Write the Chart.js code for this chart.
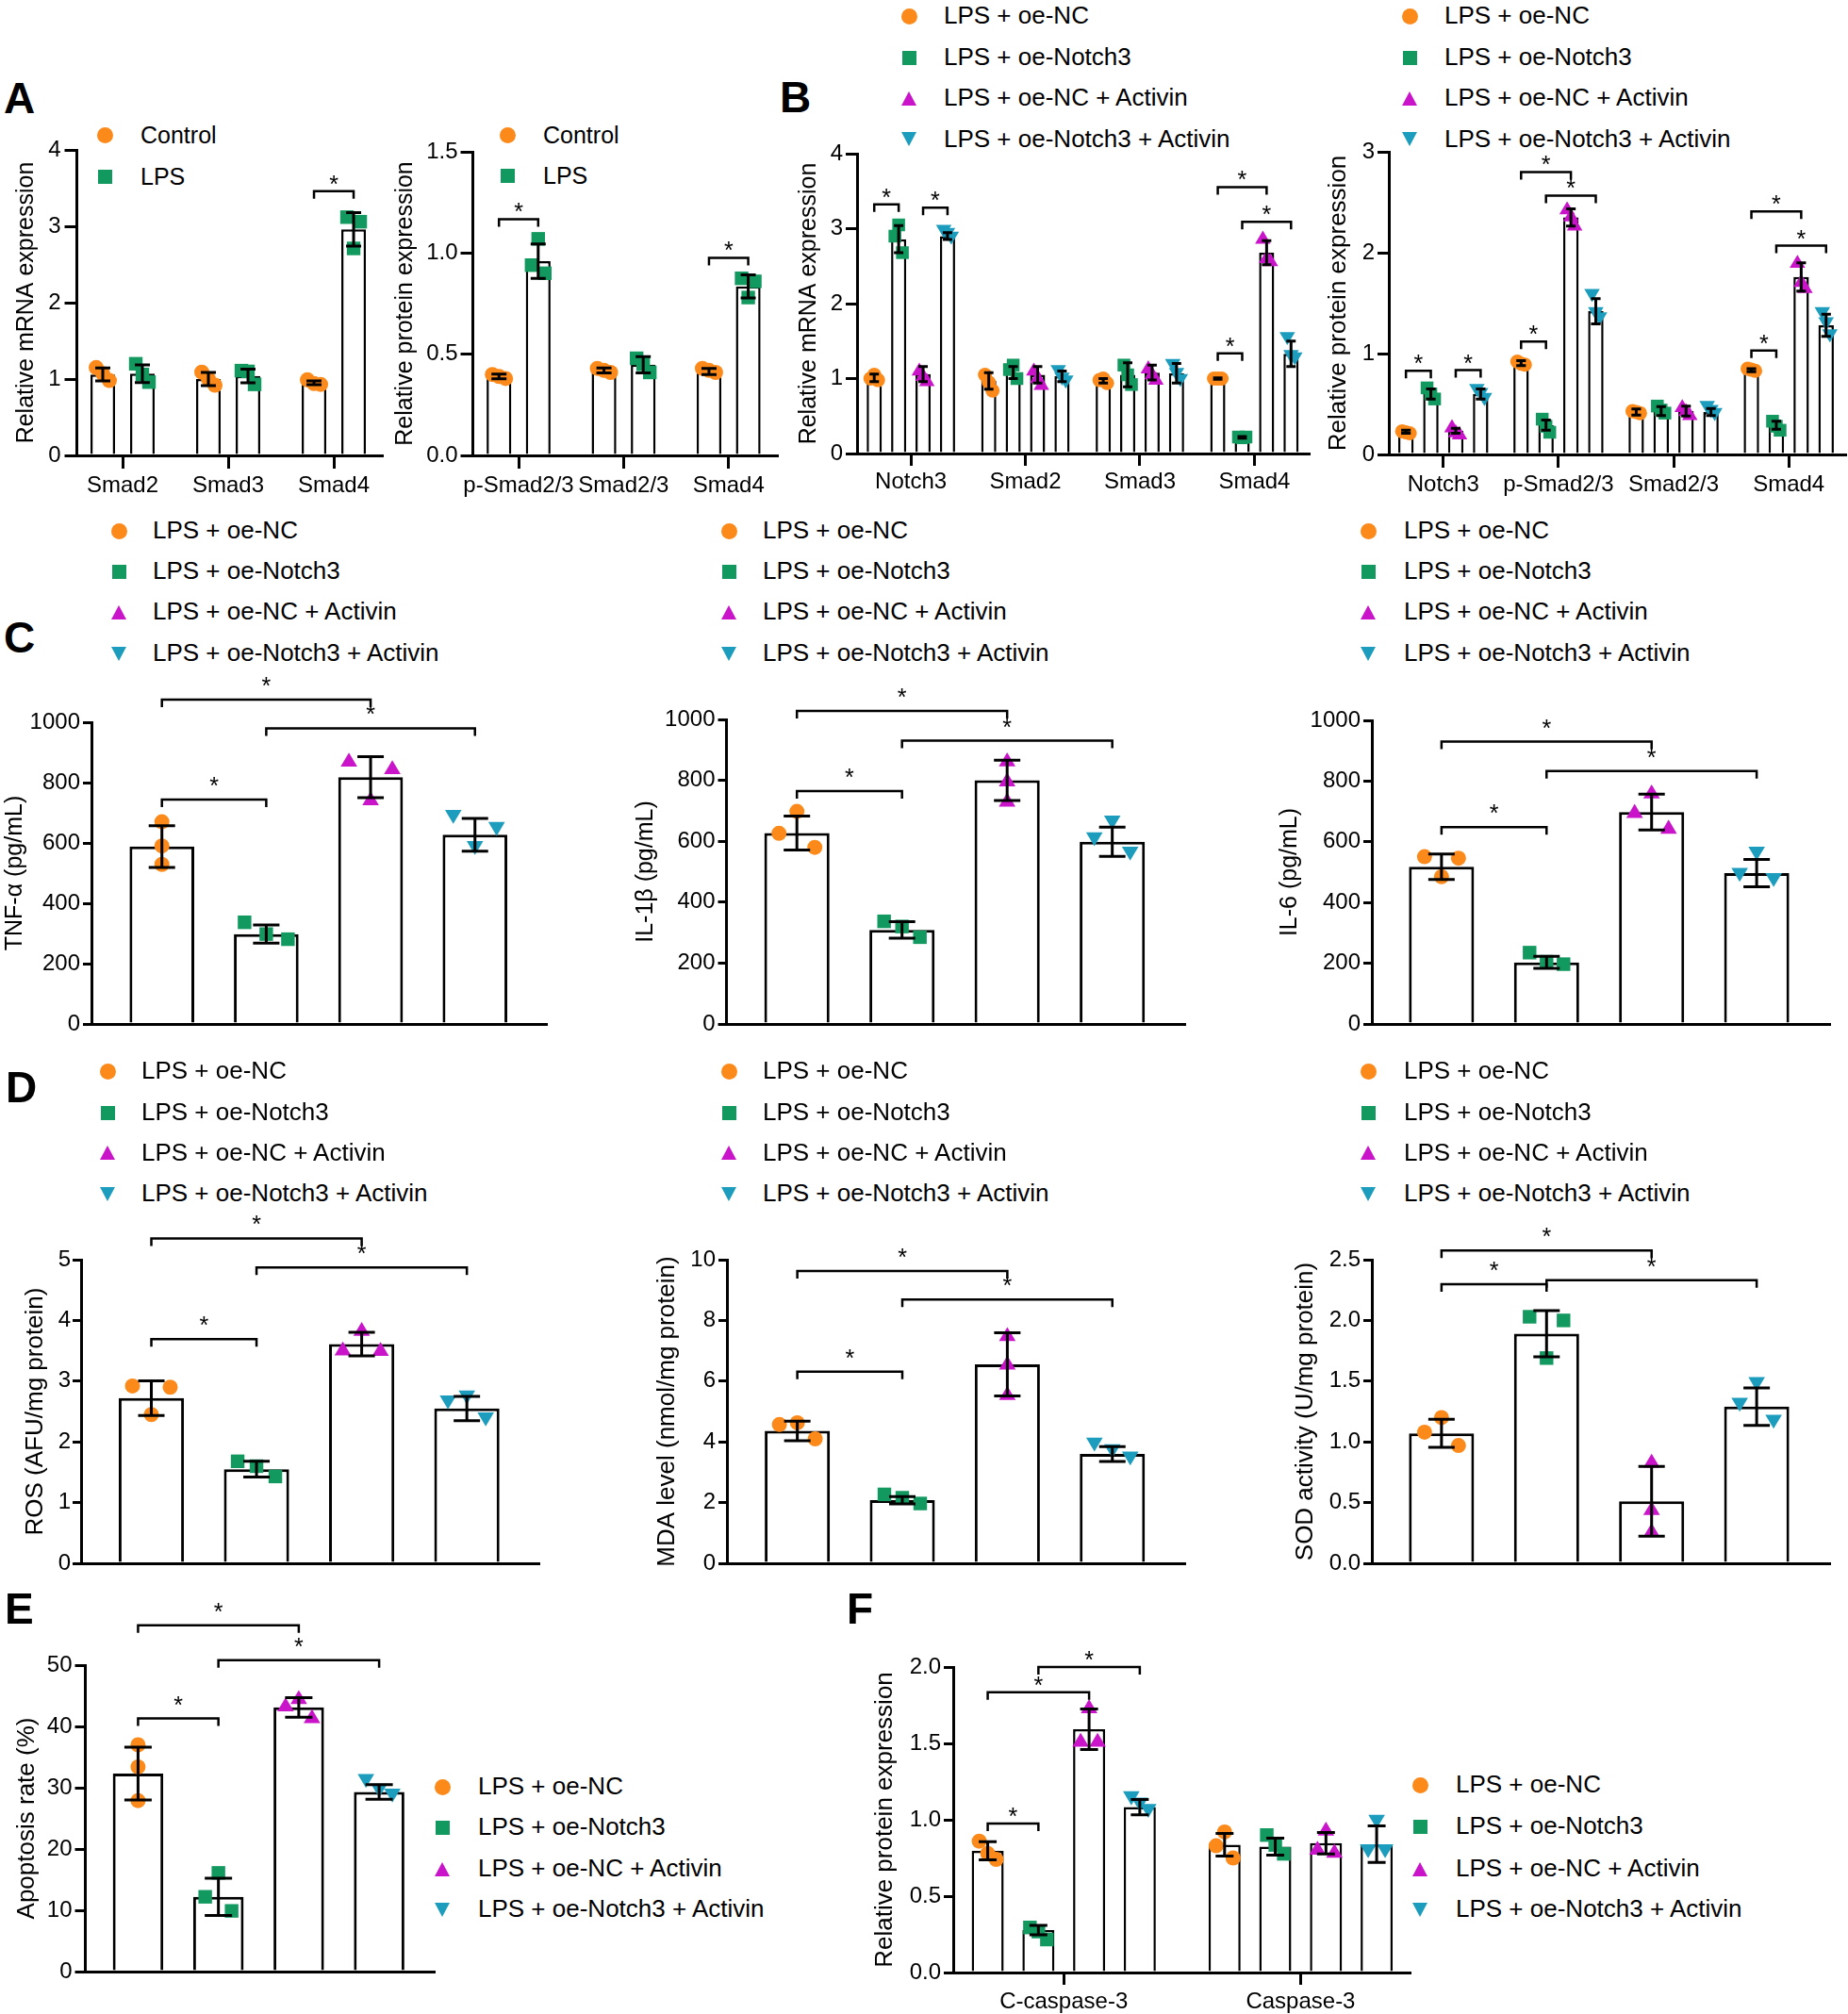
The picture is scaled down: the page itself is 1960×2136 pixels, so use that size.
<!DOCTYPE html>
<html>
<head>
<meta charset="utf-8">
<script src="https://cdn.jsdelivr.net/npm/chart.js@4.4.1/dist/chart.umd.min.js"></script>
<style>
html, body { margin: 0; padding: 0; background: #fff; }
#fig { position: relative; width: 1960px; height: 2136px; overflow: hidden; background: #fff;
       font-family: "Liberation Sans", Arial, Helvetica, sans-serif; color: #000; }
.lbl { position: absolute; font-weight: bold; line-height: 1; white-space: nowrap; }
.leg { position: absolute; white-space: nowrap; }
.mk { position: absolute; }
canvas { position: absolute; }
</style>
</head>
<body>
<div id="fig"></div>
<script>
// ---- groups / categories ----
const groupsA = ['Control', 'LPS'];
const groupsB = ['LPS + oe-NC', 'LPS + oe-Notch3', 'LPS + oe-NC + Activin', 'LPS + oe-Notch3 + Activin'];

// A: mRNA  (group x category)
const catsAm = ['Smad2', 'Smad3', 'Smad4'];
const meanAm = [[1.06, 1.00, 0.95], [1.07, 1.04, 2.96]];
const sdAm = [[0.085, 0.085, 0.025], [0.115, 0.09, 0.22]];
const ptsAm = [[[1.15, 1.07, 0.98], [1.09, 1.00, 0.92], [0.99, 0.94, 0.93]],
               [[1.20, 1.06, 0.96], [1.11, 1.10, 0.93], [3.12, 2.71, 3.06]]];
const brAm = [[2, 0, 2, 1, 3.46]];

// A: protein
const catsAp = ['p-Smad2/3', 'Smad2/3', 'Smad4'];
const meanAp = [[0.39, 0.42, 0.415], [0.96, 0.448, 0.835]];
const sdAp = [[0.012, 0.012, 0.015], [0.085, 0.04, 0.057]];
const ptsAp = [[[0.40, 0.39, 0.38], [0.43, 0.42, 0.41], [0.43, 0.42, 0.41]],
               [[0.94, 1.07, 0.90], [0.48, 0.45, 0.41], [0.875, 0.78, 0.86]]];
const brAp = [[0, 0, 0, 1, 1.167], [2, 0, 2, 1, 0.976]];

// B: mRNA
const catsBm = ['Notch3', 'Smad2', 'Smad3', 'Smad4'];
const meanBm = [[1.01, 0.97, 0.97, 1.00], [2.86, 1.08, 1.05, 0.215], [1.06, 1.05, 1.08, 2.68], [2.90, 1.03, 1.07, 1.33]];
const sdBm = [[0.05, 0.11, 0.03, 0.01], [0.18, 0.08, 0.16, 0.01], [0.10, 0.11, 0.10, 0.16], [0.045, 0.07, 0.13, 0.17]];
const ptsBm = [
  [[1.00, 1.05, 0.98], [1.05, 0.95, 0.84], [0.98, 1.00, 0.94], [1.00, 1.00, 1.00]],
  [[2.90, 3.05, 2.68], [1.12, 1.18, 1.00], [1.18, 1.05, 0.92], [0.22, 0.21, 0.22]],
  [[1.12, 1.05, 0.98], [1.12, 1.02, 0.93], [1.15, 1.07, 1.00], [2.88, 2.62, 2.58]],
  [[2.97, 2.93, 2.88], [1.10, 1.00, 0.96], [1.18, 1.06, 0.98], [1.54, 1.30, 1.27]]];
const brBm = [[0, 0, 0, 1, 3.325], [0, 2, 0, 3, 3.28], [3, 0, 3, 2, 3.555], [3, 1, 3, 3, 3.09], [3, 0, 3, 1, 1.336]];

// B: protein
const catsBp = ['Notch3', 'p-Smad2/3', 'Smad2/3', 'Smad4'];
const meanBp = [[0.225, 0.905, 0.42, 0.836], [0.60, 0.29, 0.43, 0.29], [0.235, 2.35, 0.43, 1.76], [0.60, 1.42, 0.42, 1.28]];
const sdBp = [[0.015, 0.025, 0.03, 0.015], [0.05, 0.05, 0.045, 0.04], [0.025, 0.085, 0.05, 0.14], [0.05, 0.125, 0.035, 0.11]];
const ptsBp = [
  [[0.23, 0.22, 0.21], [0.92, 0.90, 0.89], [0.43, 0.42, 0.41], [0.85, 0.84, 0.83]],
  [[0.66, 0.60, 0.55], [0.35, 0.28, 0.22], [0.48, 0.44, 0.41], [0.33, 0.28, 0.24]],
  [[0.28, 0.23, 0.21], [2.44, 2.37, 2.28], [0.48, 0.44, 0.40], [1.91, 1.72, 1.66]],
  [[0.64, 0.60, 0.55], [1.58, 1.40, 1.35], [0.47, 0.43, 0.40], [1.40, 1.30, 1.18]]];
const brBp = [[0, 0, 0, 1, 0.83], [0, 2, 0, 3, 0.836], [1, 0, 1, 1, 1.12], [1, 0, 1, 2, 2.80], [1, 1, 1, 3, 2.566],
              [3, 0, 3, 1, 1.03], [3, 0, 3, 2, 2.41], [3, 1, 3, 3, 2.07]];

// C (one bar per group)
const meanTnf = [588, 298, 818, 627];
const sdTnf = [69, 30, 68, 54];
const ptsTnf = [[670, 590, 529], [337, 298, 281], [874, 746, 849], [688, 585, 648]];
const brTnf = [[0, 0, 2, 0, 1075], [1, 0, 3, 0, 980], [0, 0, 1, 0, 744]];

const meanIl1 = [627, 309, 800, 598];
const sdIl1 = [56, 27, 66, 48];
const ptsIl1 = [[626, 698, 580], [337, 320, 285], [867, 801, 735], [608, 663, 561]];
const brIl1 = [[0, 0, 2, 0, 1028], [1, 0, 3, 0, 930], [0, 0, 1, 0, 765]];

const meanIl6 = [518, 203, 698, 497];
const sdIl6 = [42, 20, 59, 45];
const ptsIl6 = [[551, 485, 546], [235, 205, 197], [700, 764, 648], [493, 563, 476]];
const brIl6 = [[0, 0, 2, 0, 930], [1, 0, 3, 0, 833], [0, 0, 1, 0, 648]];

// D
const meanRos = [2.72, 1.55, 3.61, 2.55];
const sdRos = [0.285, 0.13, 0.195, 0.2];
const ptsRos = [[2.92, 2.45, 2.90], [1.68, 1.60, 1.43], [3.53, 3.85, 3.52], [2.66, 2.74, 2.38]];
const brRos = [[0, 0, 2, 0, 5.35], [1, 0, 3, 0, 4.87], [0, 0, 1, 0, 3.69]];

const meanMda = [4.36, 2.08, 6.55, 3.60];
const sdMda = [0.32, 0.12, 1.04, 0.245];
const ptsMda = [[4.57, 4.63, 4.10], [2.27, 2.16, 1.97], [7.53, 6.59, 5.59], [3.93, 3.71, 3.47]];
const brMda = [[0, 0, 2, 0, 9.63], [1, 0, 3, 0, 8.69], [0, 0, 1, 0, 6.31]];

const meanSod = [1.07, 1.89, 0.51, 1.29];
const sdSod = [0.115, 0.19, 0.287, 0.155];
const ptsSod = [[1.08, 1.20, 0.97], [2.03, 1.69, 2.00], [0.84, 0.45, 0.27], [1.31, 1.48, 1.17]];
const brSod = [[0, 0, 2, 0, 2.575], [0, 0, 1, 0, 2.298], [1, 0, 3, 0, 2.331]];

// E
const meanApo = [32.3, 12.2, 43.1, 29.3];
const sdApo = [4.3, 3.05, 1.6, 1.2];
const ptsApo = [[37.0, 33.4, 27.9], [12.2, 16.1, 9.9], [43.5, 44.7, 41.6], [31.2, 29.6, 28.8]];
const brApo = [[0, 0, 2, 0, 56.5], [1, 0, 3, 0, 50.8], [0, 0, 1, 0, 41.3]];

// F
const catsF = ['C-caspase-3', 'Caspase-3'];
const meanF = [[0.797, 0.837], [0.278, 0.824], [1.593, 0.847], [1.083, 0.84]];
const sdF = [[0.059, 0.074], [0.031, 0.055], [0.133, 0.07], [0.05, 0.12]];
const ptsF = [[[0.86, 0.78, 0.74], [0.83, 0.92, 0.75]],
              [[0.295, 0.268, 0.216], [0.90, 0.835, 0.777]],
              [[1.52, 1.74, 1.52], [0.814, 0.938, 0.794]],
              [[1.144, 1.103, 1.062], [0.798, 0.99, 0.798]]];
const brF = [[0, 0, 0, 1, 0.975], [0, 0, 0, 2, 1.835], [0, 1, 0, 3, 2.0]];

// ---- style ----
const colors = ['#FB8A1B', '#12995F', '#C914C9', '#1C9DBD'];
Chart.defaults.font.family = '"Liberation Sans", Arial, Helvetica, sans-serif';
Chart.defaults.color = '#000';

const fig = document.getElementById('fig');

function letter(ch, x, base, size) {
  const d = document.createElement('div');
  d.className = 'lbl';
  d.textContent = ch;
  d.style.fontSize = size + 'px';
  d.style.left = x + 'px';
  d.style.top = (base - 0.85 * size) + 'px';
  fig.appendChild(d);
}

function legend(names, mx, tx, rows, fs) {
  names.forEach((name, i) => {
    const y = rows[i], c = colors[i];
    const m = document.createElement('div');
    m.className = 'mk';
    if (i === 0) {
      Object.assign(m.style, {width: '17px', height: '17px', borderRadius: '50%', background: c, left: (mx - 8.5) + 'px', top: (y - 8.5) + 'px'});
    } else if (i === 1) {
      Object.assign(m.style, {width: '15px', height: '15px', background: c, left: (mx - 7.5) + 'px', top: (y - 7.5) + 'px'});
    } else if (i === 2) {
      Object.assign(m.style, {width: 0, height: 0, borderLeft: '8.5px solid transparent', borderRight: '8.5px solid transparent',
        borderBottom: '15px solid ' + c, left: (mx - 8.5) + 'px', top: (y - 7.5) + 'px'});
    } else {
      Object.assign(m.style, {width: 0, height: 0, borderLeft: '8.5px solid transparent', borderRight: '8.5px solid transparent',
        borderTop: '15px solid ' + c, left: (mx - 8.5) + 'px', top: (y - 7.5) + 'px'});
    }
    fig.appendChild(m);
    const t = document.createElement('div');
    t.className = 'leg';
    t.textContent = name;
    t.style.fontSize = fs + 'px';
    t.style.lineHeight = (1.2 * fs) + 'px';
    t.style.left = tx + 'px';
    t.style.top = (y - 0.6 * fs) + 'px';
    fig.appendChild(t);
  });
}

function drawMark(ctx, i, x, y, r) {
  ctx.fillStyle = colors[i];
  ctx.beginPath();
  if (i === 0) ctx.arc(x, y, r, 0, 2 * Math.PI);
  else if (i === 1) ctx.rect(x - r * 0.9, y - r * 0.9, r * 1.8, r * 1.8);
  else if (i === 2) { ctx.moveTo(x, y - r); ctx.lineTo(x + r * 1.1, y + r * 0.85); ctx.lineTo(x - r * 1.1, y + r * 0.85); }
  else { ctx.moveTo(x, y + r); ctx.lineTo(x + r * 1.1, y - r * 0.85); ctx.lineTo(x - r * 1.1, y - r * 0.85); }
  ctx.closePath();
  ctx.fill();
}

// dots, error bars and significance brackets, placed from the bar elements and y scale
function marksFor(s, mean, sd, pts, single) {
  return {
    id: 'marks',
    afterDatasetsDraw(chart) {
      const ctx = chart.ctx, ys = chart.scales.y;
      const bar = (g, c) => chart.getDatasetMeta(g).data[c];
      const cen = s.centred || [];
      ctx.save();
      pts.forEach((grp, g) => grp.forEach((vals, c) => {
        const b = bar(g, c), ci = single ? c : g;
        const still = cen.some(p => p[0] === g && p[1] === c);
        vals.forEach((v, j) => drawMark(ctx, ci, b.x + (still ? 0 : (j - 1) * s.spread), ys.getPixelForValue(v), s.r));
      }));
      ctx.strokeStyle = '#000';
      ctx.lineWidth = 3;
      mean.forEach((grp, g) => grp.forEach((m, c) => {
        const b = bar(g, c), e = sd[g][c];
        const y1 = ys.getPixelForValue(m + e), y2 = ys.getPixelForValue(m - e);
        const w = Math.min(b.width * 0.62, s.cap) / 2;
        ctx.beginPath();
        ctx.moveTo(b.x, y1); ctx.lineTo(b.x, y2);
        ctx.moveTo(b.x - w, y1); ctx.lineTo(b.x + w, y1);
        ctx.moveTo(b.x - w, y2); ctx.lineTo(b.x + w, y2);
        ctx.stroke();
      }));
      ctx.lineWidth = 2.5;
      ctx.fillStyle = '#000';
      ctx.font = '25px "Liberation Sans", Arial';
      ctx.textAlign = 'center';
      ctx.textBaseline = 'alphabetic';
      s.br.forEach(([c1, g1, c2, g2, v]) => {
        const x1 = bar(g1, c1).x, x2 = bar(g2, c2).x, y = ys.getPixelForValue(v);
        ctx.beginPath();
        ctx.moveTo(x1, y + 8); ctx.lineTo(x1, y); ctx.lineTo(x2, y); ctx.lineTo(x2, y + 8);
        ctx.stroke();
        ctx.fillText('*', (x1 + x2) / 2, y + s.star);
      });
      ctx.restore();
    }
  };
}

function build(s) {
  const [L, T, R, B] = s.area;
  const left = Math.max(0, Math.round(s.titleX - 0.6 * s.titleSize));
  const top = T - 110;
  const w = Math.ceil(R - left + 24), h = B + 62 - top;
  const yw = L - left, padR = w - (R - left), xh = h - (B - top);
  const cv = document.createElement('canvas');
  cv.width = w; cv.height = h;
  Object.assign(cv.style, {left: left + 'px', top: top + 'px', width: w + 'px', height: h + 'px'});
  fig.appendChild(cv);
  const single = !Array.isArray(s.mean[0]);
  const mean = single ? [s.mean] : s.mean;
  const sd = single ? [s.sd] : s.sd;
  const pts = single ? [s.pts] : s.pts;
  new Chart(cv, {
    type: 'bar',
    data: {
      datasets: mean.map((m) => ({
        data: m.map((v, i) => ({x: i, y: v})),
        backgroundColor: '#fff',
        borderColor: '#000',
        borderWidth: s.bw,
        categoryPercentage: s.catPct,
        barPercentage: s.barPct
      }))
    },
    options: {
      responsive: false,
      animation: false,
      devicePixelRatio: 1,
      events: [],
      layout: {padding: {left: 0, top: T - top, right: padR, bottom: 0}, autoPadding: false},
      plugins: {legend: {display: false}, tooltip: {enabled: false}},
      scales: {
        x: {
          type: 'linear', min: s.xMin, max: s.xMax, offset: false,
          grid: {display: !!s.xTicks, offset: false, drawOnChartArea: false, drawTicks: true,
                 tickLength: s.xTick || 0, color: '#000', lineWidth: 3},
          border: {display: true, color: '#000', width: 3},
          ticks: {display: !!s.xTicks, stepSize: 1, includeBounds: false, autoSkip: false,
                  maxRotation: 0, minRotation: 0, padding: s.xPad || 0,
                  font: {size: 24}, color: '#000',
                  callback: v => (s.cats[v] !== undefined ? s.cats[v] : '')},
          afterFit: sc => { sc.height = xh; }
        },
        y: {
          type: 'linear', min: 0, max: s.yMax,
          grid: {display: true, drawOnChartArea: false, drawTicks: true, tickLength: s.yTick, color: '#000', lineWidth: 3},
          border: {display: true, color: '#000', width: 3},
          ticks: {stepSize: s.yStep, autoSkip: false, padding: s.yPad, font: {size: 24}, color: '#000',
                  callback: v => v.toFixed(s.yDec)},
          title: {display: true, text: s.yTitle, font: {size: s.titleSize}, color: '#000', padding: 0},
          afterFit: sc => { sc.width = yw; }
        }
      }
    },
    plugins: [marksFor(s, mean, sd, pts, single)]
  });
}

// ---- row A / B ----
letter('A', 4, 120, 46);
letter('B', 827, 119, 46);
legend(groupsA, 111, 149, [143, 187], 25);
legend(groupsA, 538, 576, [143, 186], 25);
legend(groupsB, 964, 1001, [17, 61, 104, 147.5], 26);
legend(groupsB, 1495, 1532, [17, 61, 104, 147.5], 26);

build({area: [81, 159, 405, 483], titleX: 28, yTitle: 'Relative mRNA expression', titleSize: 25,
  yMax: 4, yStep: 1, yDec: 0, yTick: 12.5, yPad: 4,
  cats: catsAm, mean: meanAm, sd: sdAm, pts: ptsAm, br: brAm,
  xMin: -0.4375, xMax: 2.455, catPct: 0.75, barPct: 0.62, xTicks: true, xTick: 14, xPad: 4,
  bw: 2.5, spread: 7, r: 8, cap: 16, star: 1});
build({area: [501, 161, 824, 483], titleX: 430, yTitle: 'Relative protein expression', titleSize: 25,
  yMax: 1.5, yStep: 0.5, yDec: 1, yTick: 12.5, yPad: 3,
  cats: catsAp, mean: meanAp, sd: sdAp, pts: ptsAp, br: brAp,
  xMin: -0.44, xMax: 2.46, catPct: 0.747, barPct: 0.63, xTicks: true, xTick: 14, xPad: 4,
  bw: 2.5, spread: 7, r: 8, cap: 16, star: 1});
build({area: [909, 162.5, 1388, 481], titleX: 858, yTitle: 'Relative mRNA expression', titleSize: 25,
  yMax: 4, yStep: 1, yDec: 0, yTick: 12, yPad: 3,
  cats: catsBm, mean: meanBm, sd: sdBm, pts: ptsBm, br: brBm,
  xMin: -0.47, xMax: 3.474, catPct: 0.853, barPct: 0.62, xTicks: true, xTick: 13, xPad: 3,
  bw: 2.5, spread: 4, r: 7.5, cap: 11, star: 1});
build({area: [1473, 161, 1957, 482], titleX: 1420, yTitle: 'Relative protein expression', titleSize: 26,
  yMax: 3, yStep: 1, yDec: 0, yTick: 12, yPad: 3,
  cats: catsBp, mean: meanBp, sd: sdBp, pts: ptsBp, br: brBp,
  xMin: -0.473, xMax: 3.49, catPct: 0.865, barPct: 0.62, xTicks: true, xTick: 14, xPad: 4,
  bw: 2.5, spread: 4, r: 7.5, cap: 11, star: 1});

// ---- row C ----
letter('C', 4, 692, 46);
const rowsC = [563, 606, 649, 693];
legend(groupsB, 126, 162, rowsC, 26);
legend(groupsB, 773, 809, rowsC, 26);
legend(groupsB, 1451, 1489, rowsC, 26);

build({area: [97, 766, 579, 1086], titleX: 16, yTitle: 'TNF-α (pg/mL)', titleSize: 25,
  yMax: 1000, yStep: 200, yDec: 0, yTick: 9, yPad: 3,
  cats: groupsB, mean: meanTnf, sd: sdTnf, pts: ptsTnf, br: brTnf,
  xMin: -0.675, xMax: 3.68, catPct: 1, barPct: 0.62, bw: 3, spread: 23, r: 8, cap: 28, star: -6, centred: [[0, 0]]});
build({area: [770.5, 763, 1256.6, 1086], titleX: 685, yTitle: 'IL-1β (pg/mL)', titleSize: 25,
  yMax: 1000, yStep: 200, yDec: 0, yTick: 9, yPad: 3,
  cats: groupsB, mean: meanIl1, sd: sdIl1, pts: ptsIl1, br: brIl1,
  xMin: -0.67, xMax: 3.69, catPct: 1, barPct: 0.62, bw: 3, spread: 19, r: 8, cap: 28, star: -6, centred: [[0, 2]]});
build({area: [1455, 764, 1940, 1086], titleX: 1368, yTitle: 'IL-6 (pg/mL)', titleSize: 25,
  yMax: 1000, yStep: 200, yDec: 0, yTick: 9, yPad: 3,
  cats: groupsB, mean: meanIl6, sd: sdIl6, pts: ptsIl6, br: brIl6,
  xMin: -0.663, xMax: 3.69, catPct: 1, barPct: 0.62, bw: 3, spread: 18, r: 8, cap: 28, star: -6});

// ---- row D ----
letter('D', 6, 1169, 46);
const rowsD = [1136, 1180, 1222.5, 1266];
legend(groupsB, 114, 150, rowsD, 26);
legend(groupsB, 773, 809, rowsD, 26);
legend(groupsB, 1451, 1489, rowsD, 26);

build({area: [86, 1336, 571, 1658], titleX: 38, yTitle: 'ROS (AFU/mg protein)', titleSize: 26,
  yMax: 5, yStep: 1, yDec: 0, yTick: 9, yPad: 2,
  cats: groupsB, mean: meanRos, sd: sdRos, pts: ptsRos, br: brRos,
  xMin: -0.668, xMax: 3.68, catPct: 1, barPct: 0.62, bw: 3, spread: 20, r: 8, cap: 28, star: -6});
build({area: [771, 1336, 1256.6, 1658], titleX: 708, yTitle: 'MDA level (nmol/mg protein)', titleSize: 26,
  yMax: 10, yStep: 2, yDec: 0, yTick: 9, yPad: 3,
  cats: groupsB, mean: meanMda, sd: sdMda, pts: ptsMda, br: brMda,
  xMin: -0.67, xMax: 3.69, catPct: 1, barPct: 0.62, bw: 3, spread: 19, r: 8, cap: 28, star: -6, centred: [[0, 2]]});
build({area: [1455, 1336, 1940, 1658], titleX: 1385, yTitle: 'SOD activity (U/mg protein)', titleSize: 26,
  yMax: 2.5, yStep: 0.5, yDec: 1, yTick: 9, yPad: 3,
  cats: groupsB, mean: meanSod, sd: sdSod, pts: ptsSod, br: brSod,
  xMin: -0.663, xMax: 3.69, catPct: 1, barPct: 0.62, bw: 3, spread: 18, r: 8, cap: 28, star: -6, centred: [[0, 2]]});

// ---- row E / F ----
letter('E', 5, 1722, 46);
letter('F', 898, 1722, 46);
legend(groupsB, 469, 507, [1895, 1938, 1982, 2025], 26);
legend(groupsB, 1506, 1544, [1893, 1937, 1982, 2025], 26);

build({area: [90.5, 1766, 460.5, 2091], titleX: 28.5, yTitle: 'Apoptosis rate (%)', titleSize: 26,
  yMax: 50, yStep: 10, yDec: 0, yTick: 11, yPad: 3,
  cats: groupsB, mean: meanApo, sd: sdApo, pts: ptsApo, br: brApo,
  xMin: -0.656, xMax: 3.685, catPct: 1, barPct: 0.628, bw: 3, spread: 14, r: 8, cap: 29, star: -6, centred: [[0, 0]]});
build({area: [1011, 1768, 1495, 2092], titleX: 938.6, yTitle: 'Relative protein expression', titleSize: 26,
  yMax: 2, yStep: 0.5, yDec: 1, yTick: 10, yPad: 3,
  cats: catsF, mean: meanF, sd: sdF, pts: ptsF, br: brF,
  xMin: -0.4666, xMax: 1.46, catPct: 0.856, barPct: 0.632, xTicks: true, xTick: 13, xPad: 4,
  bw: 2.5, spread: 9, r: 8, cap: 19, star: 1});
</script>
</body>
</html>
